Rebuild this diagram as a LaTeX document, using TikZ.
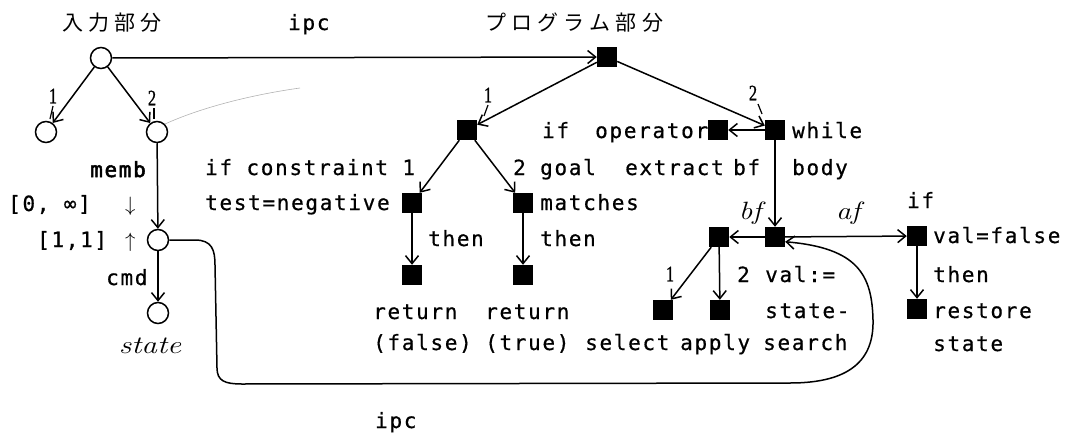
\documentclass[tikz,border=0pt]{standalone}
\usepackage{fontspec}
\newfontfamily\jpfont[LetterSpace=25]{Noto Sans CJK JP}
\newfontfamily\monofont[LetterSpace=8,FakeBold=0.6]{DejaVu Sans Mono}
\newfontfamily\monobold[LetterSpace=8,FakeBold=2.5]{DejaVu Sans Mono}
\newfontfamily\numfont[FakeBold=1]{Liberation Serif}
\usetikzlibrary{arrows.meta}
\tikzset{
  cnode/.style={circle, draw, line width=1.5pt, minimum size=21pt, inner sep=0pt, fill=white},
  snode/.style={rectangle, fill=black, minimum size=20pt, inner sep=0pt},
  arr/.style={line width=1.5pt, -{Straight Barb[length=8pt,width=13pt,line width=1.5pt]}},
  lbl/.style={anchor=base west, inner sep=0pt, font=\monofont\fontsize{21}{21}\selectfont},
  blbl/.style={anchor=base west, inner sep=0pt, font=\monobold\fontsize{21}{21}\selectfont},
  mlbl/.style={anchor=base west, inner sep=0pt, font=\fontsize{21}{21}\selectfont},
  hand/.style={inner sep=0pt, font=\fontsize{25}{25}\selectfont\itshape},
  num/.style={inner sep=0pt, font=\numfont\fontsize{22}{22}\selectfont},
  tick/.style={line width=1.2pt},
  ttl/.style={anchor=west, inner sep=0pt, font=\jpfont\fontsize{21}{21}\selectfont},
}
\begin{document}
\begin{tikzpicture}[x=1pt,y=-1pt]
\useasboundingbox (0,0) rectangle (1067,439);
% titles
\node[ttl] (t1) at (62,23) {入力部分};
\node[ttl] (t2) at (485,23) {プログラム部分};
\node[lbl] (ipc1) at (288,30) {ipc};
\node[lbl] (ipc2) at (375,428) {ipc};
% input part
\node[cnode] (c0) at (101,58) {};
\node[cnode] (c1) at (46,132) {};
\node[cnode] (c2) at (157,132) {};
\node[cnode] (c3) at (158,240) {};
\node[cnode] (c4) at (158,313) {};
\draw[arr] (c0) -- (c1);
\draw[arr] (c0) -- (c2);
\draw[arr] (c2) -- (c3);
\draw[arr] (c3) -- (c4);
\node[num] (l1) at (53,96) {\scalebox{0.75}[1]{1}};
\draw[tick] (53,106) -- (50,119);
\node[num] (l2) at (152,98) {\scalebox{0.75}[1]{2}};
\draw[tick] (154,108) -- (154,119);
\node[blbl] (memb) at (90,177) {memb};
\node[lbl] (inf) at (8,211) {[0, ∞]};
\node[mlbl] (da) at (125,211) {$\downarrow$};
\node[lbl] (one) at (37,247) {[1,1]};
\node[mlbl] (ua) at (125,247) {$\uparrow$};
\node[lbl] (cmd) at (106,285) {cmd};
\node[hand] (st) at (150,346) {\scalebox{1.25}[1]{state}};
\coordinate (fade) at (300,88);
\draw[gray!60, line width=0.6pt] (c2.north east) .. controls (200,108) and (250,95) .. (fade);
% program part
\node[snode] (p0) at (607,57) {};
\node[snode] (n1) at (467,130) {};
\node[snode] (op) at (718,130) {};
\node[snode] (wh) at (775,130) {};
\node[snode] (ng) at (412,203) {};
\node[snode] (mt) at (523,203) {};
\node[snode] (rf) at (412,275) {};
\node[snode] (rt) at (523,275) {};
\node[snode] (bf) at (719,237) {};
\node[snode] (af) at (775,237) {};
\node[snode] (ifn) at (917,236) {};
\node[snode] (rs) at (917,309) {};
\node[snode] (sel) at (663,310) {};
\node[snode] (app) at (720,310) {};
\draw[arr] (c0) -- (p0);
\draw[arr] (p0) -- (n1);
\draw[arr] (p0) -- (wh);
\draw[arr] (wh) -- (op);
\draw[arr] (wh) -- (af);
\draw[arr] (n1) -- (ng);
\draw[arr] (n1) -- (mt);
\draw[arr] (ng) -- (rf);
\draw[arr] (mt) -- (rt);
\draw[arr] (af) -- (bf);
\draw[arr] (af) -- (ifn);
\draw[arr] (ifn) -- (rs);
\draw[arr] (bf) -- (sel);
\draw[arr] (bf) -- (app);
\node[num] (l3) at (488,95) {\scalebox{0.75}[1]{1}};
\draw[tick] (488,105) -- (484,116);
\node[num] (l4) at (753,93) {\scalebox{0.75}[1]{2}};
\draw[tick] (758,104) -- (762,114);
\node[num] (l5) at (670,274) {\scalebox{0.75}[1]{1}};
% loop
\draw[arr] (c3.east) -- (195,240) .. controls (212,240) and (215,250) .. (215,265)
  -- (217,368) .. controls (217,381) and (225,384) .. (242,384)
  -- (790,383) .. controls (850,383) and (874,360) .. (873,320)
  .. controls (872,275) and (858,248) .. (af.-25);
% texts
\node[lbl] at (205,175) {if constraint 1};
\node[lbl] at (205,210) {test=negative};
\node[lbl] at (542,138) {if};
\node[lbl] at (595,138) {operator};
\node[lbl] at (513,175) {2};
\node[lbl] at (540,175) {goal};
\node[lbl] at (625,175) {extract};
\node[lbl] at (733,175) {bf};
\node[lbl] at (792,138) {while};
\node[lbl] at (792,175) {body};
\node[lbl] at (540,210) {matches};
\node[lbl] at (428,246) {then};
\node[lbl] at (540,246) {then};
\node[lbl] at (373,319) {return};
\node[lbl] at (485,319) {return};
\node[lbl] at (373,350) {(false)};
\node[lbl] at (485,350) {(true)};
\node[lbl] at (585,350) {select};
\node[lbl] at (680,350) {apply};
\node[lbl] at (763,350) {search};
\node[lbl] at (737,282) {2};
\node[lbl] at (765,282) {val:=};
\node[lbl] at (765,318) {state-};
\node[lbl] at (907,208) {if};
\node[lbl] at (933,243) {val=false};
\node[lbl] at (933,282) {then};
\node[lbl] at (933,318) {restore};
\node[lbl] at (933,351) {state};
\node[hand] (hbf) at (750,213) {\scalebox{1.2}[1]{bf}};
\node[hand] (haf) at (848,213) {\scalebox{1.2}[1]{af}};
\end{tikzpicture}
\end{document}
